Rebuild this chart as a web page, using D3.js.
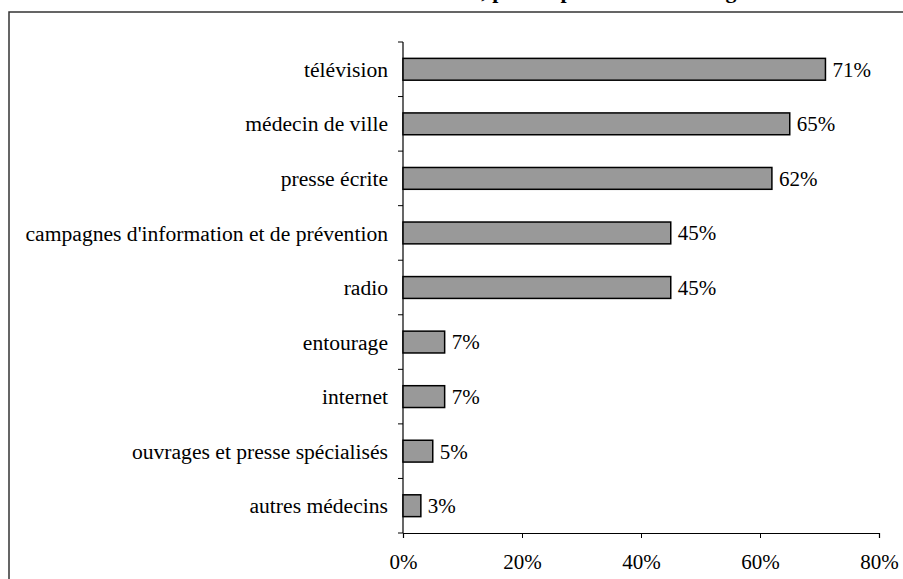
<!DOCTYPE html>
<html>
<head>
<meta charset="utf-8">
<script src="https://cdn.jsdelivr.net/npm/d3@7"></script>
<style>
  body { margin: 0; background: #fff; }
  svg text { font-family: "Liberation Serif", "Times New Roman", serif; }
</style>
</head>
<body>
<div id="d3-container"></div>
<script>
const categories = ["télévision", "médecin de ville", "presse écrite",
    "campagnes d'information et de prévention", "radio", "entourage",
    "internet", "ouvrages et presse spécialisés", "autres médecins"];
const values = [71, 65, 62, 45, 45, 7, 7, 5, 3];
const xTicks = [0, 20, 40, 60, 80];

const data = categories.map((c, i) => ({ cat: c, val: values[i] }));

const width = 903;
const height = 579;
const margin = { top: 42, right: 24, bottom: 46, left: 403 };
const fontSize = 21;

const svg = d3.select("#d3-container")
    .append("svg")
    .attr("width", width)
    .attr("height", height);

// title, mostly cut off above the frame (as in the original)
svg.append("text")
    .attr("x", 490)
    .attr("y", -2)
    .attr("text-anchor", "middle")
    .attr("font-size", 22)
    .attr("font-weight", "bold")
    .text("Sources d'information citées, par les personnes interrogées");

// outer frame
svg.append("rect")
    .attr("x", 9)
    .attr("y", 12)
    .attr("width", 920)
    .attr("height", 600)
    .attr("fill", "none")
    .attr("stroke", "#333")
    .attr("stroke-width", 1.5);

const xScale = d3.scaleLinear()
    .domain([0, 80])
    .range([margin.left, 879]);

const yScale = d3.scaleBand()
    .domain(categories)
    .range([margin.top, 533])
    .paddingInner(0.6)
    .paddingOuter(0.3);

// x axis
const xAxis = d3.axisBottom(xScale)
    .tickValues(xTicks)
    .tickFormat(d => d + "%")
    .tickSize(5)
    .tickPadding(16);

const gx = svg.append("g")
    .attr("class", "axis x-axis")
    .attr("transform", `translate(0,533)`)
    .call(xAxis);
gx.select(".domain").attr("stroke", "#000").attr("stroke-width", 1.2);
gx.selectAll(".tick line").attr("stroke", "#000");
gx.selectAll("text")
    .attr("font-size", fontSize)
    .attr("font-family", "Liberation Serif, serif")
    .attr("fill", "#000");

// y axis: line plus boundary ticks between categories
const step = (533 - margin.top) / categories.length;
const gy = svg.append("g").attr("class", "axis y-axis");
gy.append("line")
    .attr("x1", margin.left).attr("x2", margin.left)
    .attr("y1", margin.top).attr("y2", 533)
    .attr("stroke", "#000").attr("stroke-width", 1.2);
gy.selectAll("line.tick")
    .data(d3.range(categories.length + 1))
    .enter()
    .append("line")
    .attr("class", "tick")
    .attr("x1", margin.left - 5).attr("x2", margin.left)
    .attr("y1", i => margin.top + i * step)
    .attr("y2", i => margin.top + i * step)
    .attr("stroke", "#000");

gy.selectAll("text")
    .data(data)
    .enter()
    .append("text")
    .attr("x", 388)
    .attr("y", d => yScale(d.cat) + yScale.bandwidth() / 2)
    .attr("dy", "0.35em")
    .attr("text-anchor", "end")
    .attr("font-size", 21.6)
    .text(d => d.cat);

// bars
svg.append("g")
    .selectAll("rect")
    .data(data)
    .enter()
    .append("rect")
    .attr("x", xScale(0))
    .attr("y", d => yScale(d.cat))
    .attr("width", d => xScale(d.val) - xScale(0))
    .attr("height", yScale.bandwidth())
    .attr("fill", "#999999")
    .attr("stroke", "#000")
    .attr("stroke-width", 1.5);

// value labels
svg.append("g")
    .selectAll("text")
    .data(data)
    .enter()
    .append("text")
    .attr("x", d => xScale(d.val) + 7)
    .attr("y", d => yScale(d.cat) + yScale.bandwidth() / 2)
    .attr("dy", "0.35em")
    .attr("font-size", fontSize)
    .text(d => d.val + "%");
</script>
</body>
</html>
